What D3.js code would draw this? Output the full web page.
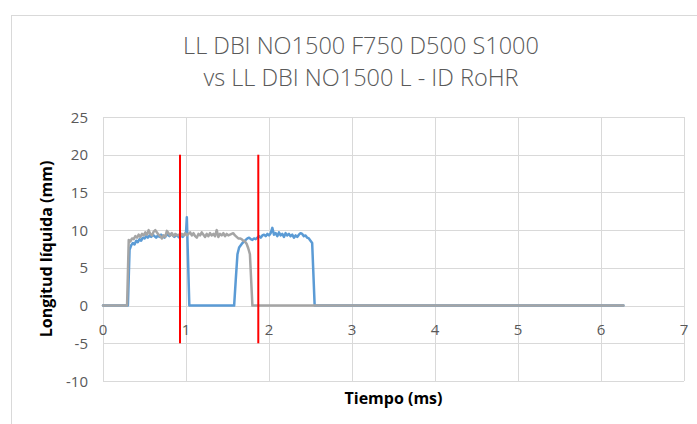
<!DOCTYPE html>
<html lang="es">
<head>
  <meta charset="UTF-8" />
  <title>LL DBI NO1500 F750 D500 S1000 vs LL DBI NO1500 L - ID RoHR</title>
  <script src="https://d3js.org/d3.v7.min.js"></script>
  <style>
    body {
      margin: 0;
      padding: 0;
      background: #fff;
    }
    svg {
      display: block;
      font-family: "Open Sans", "Noto Sans", sans-serif;
    }
    .grid line {
      stroke: #d9d9d9;
      stroke-width: 1;
    }
    .tick-label {
      fill: #595959;
      font-size: 15px;
    }
    .axis-title {
      fill: #000;
      font-size: 16px;
      font-weight: bold;
    }
    .title {
      fill: #595959;
      font-size: 23.5px;
      font-weight: 300;
    }
    .serie {
      fill: none;
      stroke-width: 2.5;
      stroke-linejoin: round;
      stroke-linecap: round;
    }
  </style>
</head>
<body>
  <svg width="697" height="424"></svg>

  <script>
    // textos
    const titulo = ["LL DBI NO1500 F750 D500 S1000", "vs LL DBI NO1500 L - ID RoHR"];
    const tituloX = "Tiempo (ms)";
    const tituloY = "Longitud líquida (mm)";

    // ejes
    const ticksX = [0, 1, 2, 3, 4, 5, 6, 7];
    const ticksY = [-10, -5, 0, 5, 10, 15, 20, 25];

    // líneas rojas verticales (ms) y su tramo en y
    const lineasRojas = [0.928, 1.871];
    const tramoRojo = [-5, 20];

    // serie azul: LL DBI NO1500 F750 D500 S1000  [tiempo ms, longitud mm]
    const serieAzul = [
      [0, 0], [0.30, 0], [0.32, 7.4], [0.34, 8.0], [0.36, 8.3], [0.38, 8.1], [0.40, 8.6],
      [0.42, 8.4], [0.44, 8.8], [0.46, 8.6], [0.48, 9.0], [0.50, 8.9], [0.52, 9.2], [0.54, 9.0],
      [0.56, 9.3], [0.58, 9.1], [0.60, 9.4], [0.62, 9.2], [0.64, 9.0], [0.66, 9.3], [0.68, 9.1],
      [0.70, 9.4], [0.72, 9.2], [0.74, 9.0], [0.76, 9.3], [0.78, 9.4], [0.80, 9.2], [0.82, 9.5],
      [0.84, 9.3], [0.86, 9.1], [0.88, 9.4], [0.90, 9.2], [0.92, 9.0], [0.94, 9.3], [0.96, 9.1],
      [0.98, 9.4], [1.00, 9.6], [1.01, 11.7], [1.04, 0], [1.58, 0], [1.60, 3.5], [1.62, 6.8],
      [1.64, 7.7], [1.66, 8.0], [1.68, 8.3], [1.70, 8.5], [1.72, 8.7], [1.74, 8.9], [1.76, 9.0],
      [1.78, 8.8], [1.80, 8.7], [1.82, 8.9], [1.84, 8.8], [1.86, 9.0], [1.88, 9.2], [1.90, 9.0],
      [1.92, 9.3], [1.94, 9.4], [1.96, 9.2], [1.98, 9.5], [2.00, 9.3], [2.02, 9.6], [2.04, 10.3],
      [2.06, 9.4], [2.08, 9.6], [2.10, 9.2], [2.12, 9.7], [2.14, 9.3], [2.16, 9.5], [2.18, 9.1],
      [2.20, 9.6], [2.22, 9.3], [2.24, 9.5], [2.26, 9.2], [2.28, 9.4], [2.30, 9.0], [2.32, 9.3],
      [2.34, 9.1], [2.36, 9.4], [2.38, 9.6], [2.40, 9.5], [2.42, 9.2], [2.44, 9.3], [2.46, 9.0],
      [2.48, 8.9], [2.50, 8.6], [2.52, 8.3], [2.55, 0], [6.27, 0]
    ];

    // serie gris: LL DBI NO1500 L - ID RoHR
    const serieGris = [
      [0, 0], [0.29, 0], [0.31, 8.7], [0.33, 8.5], [0.35, 8.9], [0.37, 8.8], [0.39, 9.2],
      [0.41, 9.0], [0.43, 9.4], [0.45, 9.1], [0.47, 9.5], [0.49, 9.3], [0.51, 9.7], [0.53, 9.4],
      [0.55, 10.0], [0.57, 9.5], [0.59, 9.3], [0.61, 9.8], [0.63, 10.0], [0.65, 9.7], [0.67, 9.4],
      [0.69, 9.2], [0.71, 8.9], [0.73, 9.3], [0.75, 9.1], [0.77, 9.9], [0.79, 9.6], [0.81, 9.3],
      [0.83, 9.6], [0.85, 9.2], [0.87, 9.5], [0.89, 9.3], [0.91, 9.4], [0.93, 9.2], [0.95, 9.5],
      [0.97, 9.3], [0.99, 9.6], [1.01, 9.3], [1.03, 9.5], [1.05, 9.7], [1.07, 9.3], [1.09, 9.6],
      [1.11, 9.2], [1.13, 9.0], [1.15, 9.5], [1.17, 9.3], [1.19, 9.7], [1.21, 9.4], [1.23, 9.1],
      [1.25, 9.5], [1.27, 9.2], [1.29, 9.6], [1.31, 9.3], [1.33, 9.5], [1.35, 9.2], [1.37, 10.0],
      [1.39, 9.1], [1.41, 9.5], [1.43, 9.3], [1.45, 9.6], [1.47, 9.2], [1.49, 9.5], [1.51, 9.3],
      [1.53, 9.4], [1.55, 9.5], [1.57, 9.6], [1.59, 9.3], [1.61, 9.1], [1.63, 8.9], [1.65, 8.9],
      [1.67, 8.8], [1.69, 8.6], [1.71, 8.5], [1.73, 8.2], [1.75, 7.6], [1.77, 6.8], [1.80, 0],
      [6.27, 0]
    ];

    const svg = d3.select("svg");
    const margen = { izq: 103, der: 684, arr: 117, aba: 381 };

    const x = d3.scaleLinear().domain([0, 7]).range([margen.izq, margen.der]);
    const y = d3.scaleLinear().domain([-10, 25]).range([margen.aba, margen.arr]);

    // borde del área del gráfico
    svg.append("rect")
      .attr("x", 11.5).attr("y", 15.5)
      .attr("width", 700).attr("height", 420)
      .attr("fill", "none").attr("stroke", "#d9d9d9");

    // título, una línea por texto
    svg.selectAll(".title")
      .data(titulo)
      .enter()
      .append("text")
      .attr("class", "title")
      .attr("text-anchor", "middle")
      .attr("x", 361)
      .attr("y", (d, i) => 54 + i * 32)
      .text((d) => d);

    // rejilla
    const grid = svg.append("g").attr("class", "grid");
    grid.selectAll(".h")
      .data(ticksY)
      .enter()
      .append("line")
      .attr("x1", margen.izq).attr("x2", margen.der)
      .attr("y1", (d) => Math.round(y(d)) + 0.5)
      .attr("y2", (d) => Math.round(y(d)) + 0.5);
    grid.selectAll(".v")
      .data(ticksX)
      .enter()
      .append("line")
      .attr("y1", margen.arr).attr("y2", margen.aba)
      .attr("x1", (d) => Math.round(x(d)) + 0.5)
      .attr("x2", (d) => Math.round(x(d)) + 0.5);

    // etiquetas eje y
    svg.selectAll(".ly")
      .data(ticksY)
      .enter()
      .append("text")
      .attr("class", "tick-label")
      .attr("text-anchor", "end")
      .attr("x", 88)
      .attr("y", (d) => y(d) + 5.5)
      .text((d) => d);

    // etiquetas eje x (junto al eje en y = 0)
    svg.selectAll(".lx")
      .data(ticksX)
      .enter()
      .append("text")
      .attr("class", "tick-label")
      .attr("text-anchor", "middle")
      .attr("x", (d) => x(d))
      .attr("y", y(0) + 29)
      .text((d) => d);

    // títulos de ejes
    svg.append("text")
      .attr("class", "axis-title")
      .attr("text-anchor", "middle")
      .attr("x", (margen.izq + margen.der) / 2)
      .attr("y", 404)
      .text(tituloX);

    svg.append("text")
      .attr("class", "axis-title")
      .attr("text-anchor", "middle")
      .attr("transform", `translate(52, ${(margen.arr + margen.aba) / 2}) rotate(-90)`)
      .text(tituloY);

    // series
    const linea = d3.line().x((d) => x(d[0])).y((d) => y(d[1]));

    svg.append("path")
      .attr("class", "serie")
      .attr("stroke", "#5b9bd5")
      .attr("d", linea(serieAzul));

    svg.append("path")
      .attr("class", "serie")
      .attr("stroke", "#a5a5a5")
      .attr("d", linea(serieGris));

    // líneas rojas
    svg.selectAll(".roja")
      .data(lineasRojas)
      .enter()
      .append("line")
      .attr("x1", (d) => x(d)).attr("x2", (d) => x(d))
      .attr("y1", y(tramoRojo[1])).attr("y2", y(tramoRojo[0]))
      .attr("stroke", "#ff0000")
      .attr("stroke-width", 2);
  </script>
</body>
</html>
